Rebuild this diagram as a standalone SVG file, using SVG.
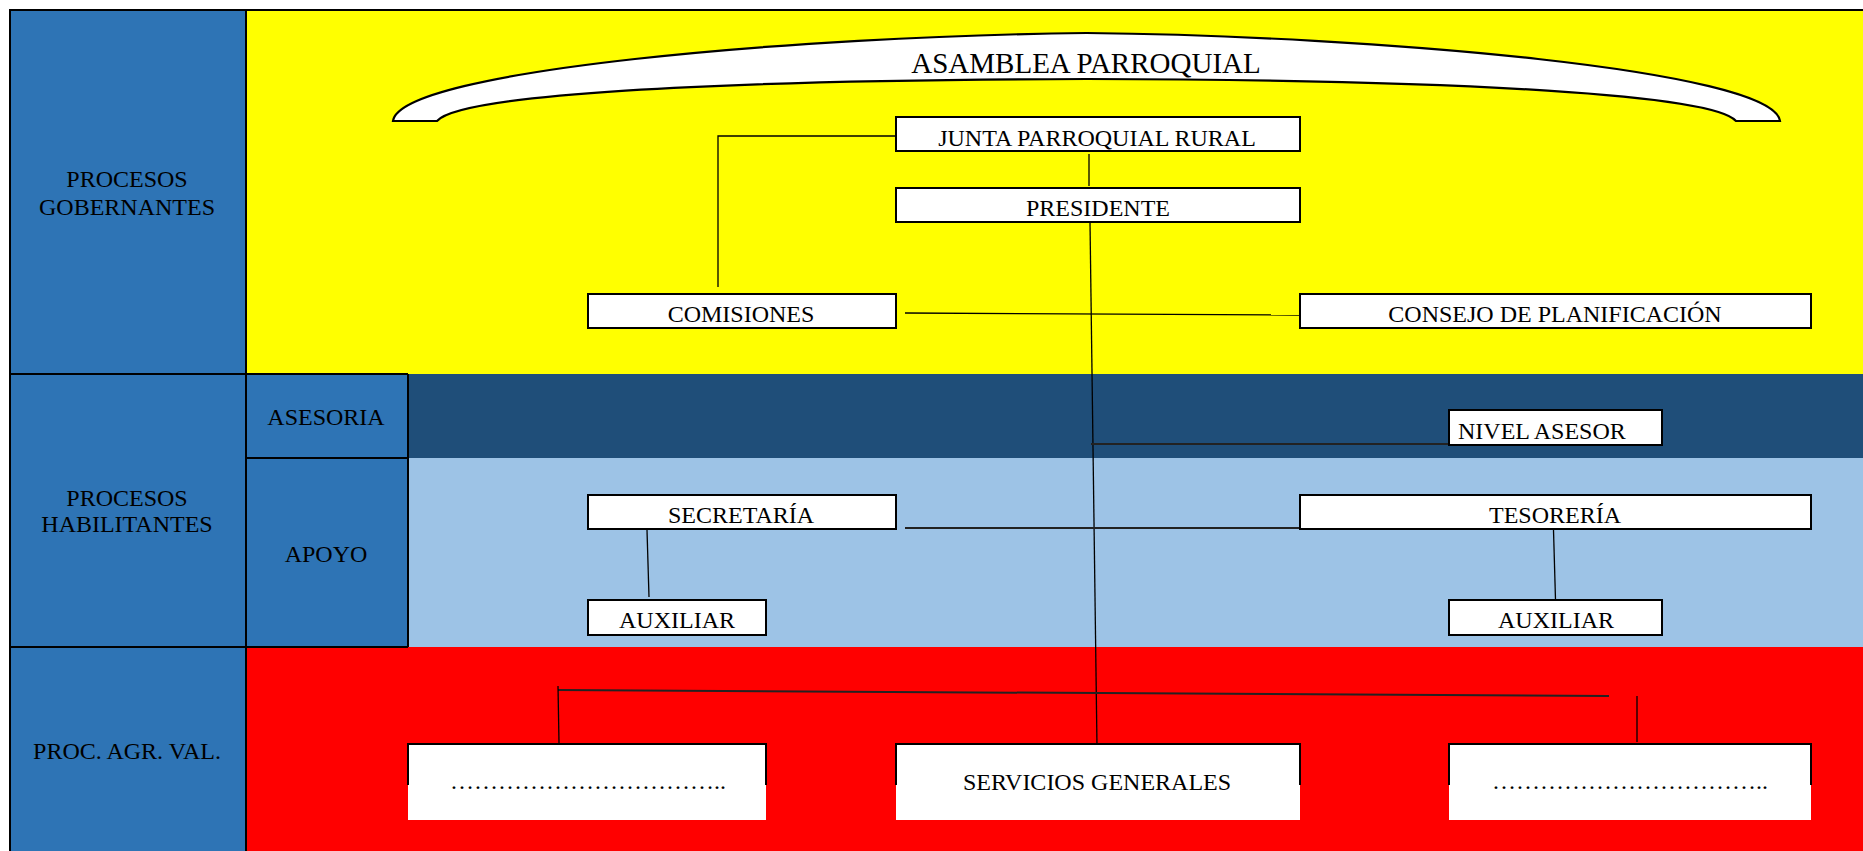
<svg xmlns="http://www.w3.org/2000/svg" width="1863" height="851" viewBox="0 0 1863 851">
<style>
text{font-family:"Liberation Serif","Times New Roman",serif;font-size:24px;fill:#000;text-anchor:middle}
.box{fill:#fff;stroke:#000;stroke-width:2}
.grid{fill:none;stroke:#000;stroke-width:2}
.con{fill:none;stroke:#000;stroke-width:1.3}
.con2{fill:none;stroke:#222;stroke-width:2}
</style>
<g id="background">
<rect x="0" y="0" width="1863" height="851" fill="#fff"/>
<rect x="10" y="10" width="236" height="841" fill="#2E74B5"/>
<rect x="246" y="10" width="1617" height="364" fill="#FFFF00"/>
<rect x="246" y="374" width="162" height="273" fill="#2E74B5"/>
<rect x="408" y="374" width="1455" height="84" fill="#1F4E79"/>
<rect x="408" y="458" width="1455" height="189" fill="#9DC3E6"/>
<rect x="246" y="647" width="1617" height="204" fill="#FF0000"/>
<path class="grid" d="M10 851V10H1863M246 10V851M10 374H408M10 647H408M408 374V647M246 458H408"/>
</g>
<g id="lane-gobernantes"><text x="127" y="187">PROCESOS</text><text x="127" y="215">GOBERNANTES</text></g>
<g id="lane-habilitantes"><text x="127" y="506">PROCESOS</text><text x="127" y="532">HABILITANTES</text></g>
<g id="lane-asesoria"><text x="326" y="425">ASESORIA</text></g>
<g id="lane-apoyo"><text x="326" y="562">APOYO</text></g>
<g id="lane-agregadores"><text x="127" y="759">PROC. AGR. VAL.</text></g>
<g id="connectors">
<path class="con" d="M896 136H718V287"/>
<path class="con" d="M1089 154V186"/>
<path class="con" d="M1090 222L1097 747"/>
<path class="con" d="M905 313L1300 315"/>
<path class="con2" d="M1091 444H1449"/>
<path class="con2" d="M905 528H1300"/>
<path class="con" d="M647 530L649 597"/>
<path class="con" d="M1553.5 530L1555.5 600"/>
<path class="con2" d="M558 690L1609 696"/>
<path class="con" d="M558 686L559 743"/>
<path class="con" d="M1637 696V742"/>
</g>
<g id="asamblea">
<path d="M393 121C400 70 800 36 1086.5 33C1373 36 1773 70 1780 121L1736 121C1713 95 1473 80 1086.5 79C700 80 460 95 437 121Z" fill="#fff" stroke="#000" stroke-width="2.2"/>
<text x="1086" y="73" style="font-size:29px">ASAMBLEA PARROQUIAL</text>
</g>
<g id="junta"><rect class="box" x="896" y="117" width="404" height="34"/><text x="1097" y="146">JUNTA PARROQUIAL RURAL</text></g>
<g id="presidente"><rect class="box" x="896" y="188" width="404" height="34"/><text x="1098" y="216">PRESIDENTE</text></g>
<g id="comisiones"><rect class="box" x="588" y="294" width="308" height="34"/><text x="741" y="322">COMISIONES</text></g>
<g id="consejo"><rect class="box" x="1300" y="294" width="511" height="34"/><text x="1555" y="322">CONSEJO DE PLANIFICACIÓN</text></g>
<g id="nivel-asesor"><rect class="box" x="1449" y="410" width="213" height="35"/><text x="1458" y="439" style="text-anchor:start">NIVEL ASESOR</text></g>
<g id="secretaria"><rect class="box" x="588" y="495" width="308" height="34"/><text x="741" y="523">SECRETARÍA</text></g>
<g id="tesoreria"><rect class="box" x="1300" y="495" width="511" height="34"/><text x="1555" y="523">TESORERÍA</text></g>
<g id="auxiliar-1"><rect class="box" x="588" y="600" width="178" height="35"/><text x="677" y="628">AUXILIAR</text></g>
<g id="auxiliar-2"><rect class="box" x="1449" y="600" width="213" height="35"/><text x="1556" y="628">AUXILIAR</text></g>
<g id="otros-1"><rect x="408" y="744" width="358" height="76" fill="#fff"/><path class="grid" d="M408 785V744H766V785"/><text x="588" y="789">……………………………..</text></g>
<g id="servicios"><rect x="896" y="744" width="404" height="76" fill="#fff"/><path class="grid" d="M896 785V744H1300V785"/><text x="1097" y="790">SERVICIOS GENERALES</text></g>
<g id="otros-2"><rect x="1449" y="744" width="362" height="76" fill="#fff"/><path class="grid" d="M1449 785V744H1811V785"/><text x="1630" y="789">……………………………..</text></g>
</svg>
